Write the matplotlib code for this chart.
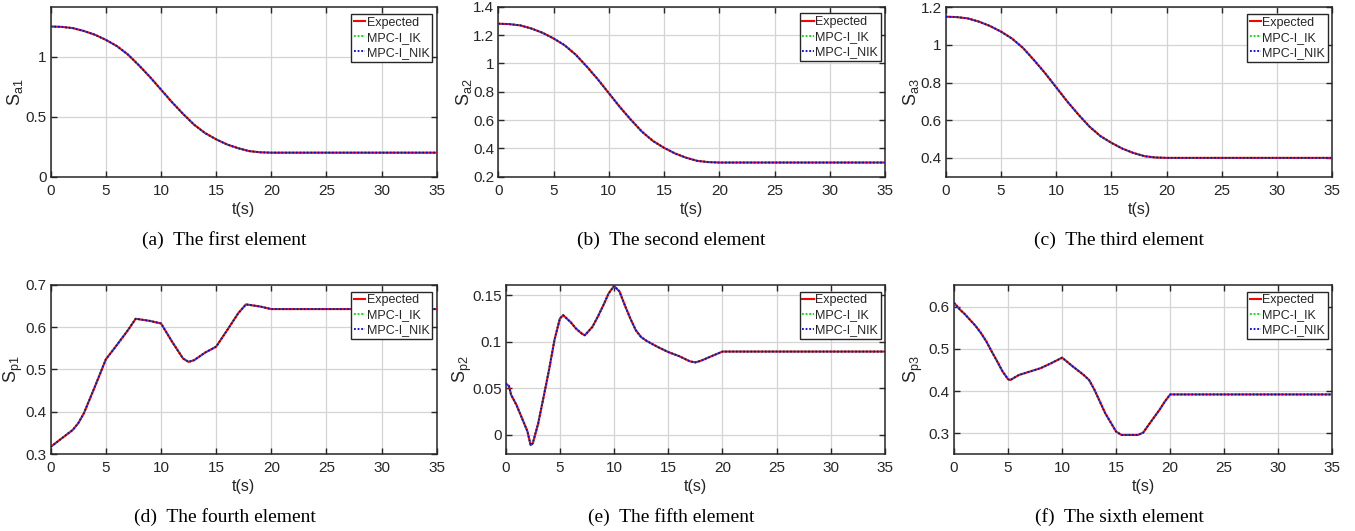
import matplotlib
matplotlib.use("Agg")
import matplotlib.pyplot as plt
from matplotlib.ticker import FormatStrFormatter, MultipleLocator

# ---------------- data ----------------
t_a = [0, 1, 2, 3, 4, 5, 6, 7, 8, 9, 10, 11, 12, 13, 14, 15, 16, 17, 18, 19, 20, 35]
s_a1 = [1.25, 1.247, 1.237, 1.213, 1.182, 1.139, 1.087, 1.017, 0.927, 0.83, 0.725,
        0.62, 0.523, 0.433, 0.363, 0.311, 0.268, 0.237, 0.213, 0.203, 0.2, 0.2]
s_a2 = [1.28, 1.277, 1.268, 1.246, 1.216, 1.176, 1.128, 1.062, 0.978, 0.888, 0.79,
        0.692, 0.602, 0.518, 0.452, 0.404, 0.364, 0.334, 0.312, 0.303, 0.3, 0.3]
s_a3 = [1.15, 1.148, 1.141, 1.124, 1.101, 1.071, 1.034, 0.984, 0.919, 0.85, 0.775,
        0.70, 0.631, 0.567, 0.516, 0.480, 0.449, 0.426, 0.409, 0.402, 0.4, 0.4]

t_p1 = [0, 1, 2, 2.5, 3, 4, 5, 6, 7, 7.7, 8, 9, 10, 11, 12, 12.5, 13, 14, 15, 16, 17,
        17.7, 18, 19, 20, 35]
s_p1 = [0.317, 0.337, 0.357, 0.373, 0.396, 0.459, 0.524, 0.558, 0.593, 0.620, 0.619,
        0.615, 0.609, 0.566, 0.526, 0.518, 0.522, 0.540, 0.554, 0.593, 0.633,
        0.654, 0.653, 0.649, 0.643, 0.643]

t_p2 = [0, 0.3, 0.5, 1, 1.5, 2, 2.3, 2.5, 3, 3.5, 4, 4.5, 5, 5.3, 6, 6.5, 7, 7.3, 8,
        8.5, 9, 9.5, 10, 10.5, 11, 11.5, 12, 12.5, 13, 14, 15, 16, 17, 17.5, 18, 19,
        20, 35]
s_p2 = [0.055, 0.0525, 0.043, 0.032, 0.018, 0.004, -0.011, -0.009, 0.0125, 0.041,
        0.070, 0.102, 0.125, 0.1286, 0.121, 0.114, 0.109, 0.107, 0.116, 0.127, 0.139,
        0.152, 0.160, 0.154, 0.139, 0.125, 0.1125, 0.105, 0.101, 0.0946, 0.089,
        0.0846, 0.079, 0.0779, 0.0796, 0.0846, 0.0895, 0.0895]

t_p3 = [0, 0.5, 1, 1.5, 2, 2.5, 3, 3.5, 4, 4.5, 5, 5.2, 6, 7, 8, 9, 10, 11, 12, 12.5,
        13, 14, 15, 15.5, 16, 17, 17.5, 18, 19, 19.5, 20, 35]
s_p3 = [0.609, 0.594, 0.582, 0.568, 0.554, 0.537, 0.517, 0.493, 0.470, 0.446, 0.428,
        0.426, 0.438, 0.446, 0.454, 0.466, 0.479, 0.458, 0.438, 0.426, 0.4026, 0.347,
        0.304, 0.296, 0.296, 0.296, 0.3016, 0.3197, 0.355, 0.375, 0.392, 0.392]

series_names = ["Expected", "MPC-I_IK", "MPC-I_NIK"]
ylabels = ["a1", "a2", "a3", "p1", "p2", "p3"]
captions = ["(a)  The first element", "(b)  The second element", "(c)  The third element",
            "(d)  The fourth element", "(e)  The fifth element", "(f)  The sixth element"]

panels = [(t_a, s_a1), (t_a, s_a2), (t_a, s_a3), (t_p1, s_p1), (t_p2, s_p2), (t_p3, s_p3)]
ylims = [(0, 1.41), (0.2, 1.4), (0.3, 1.2), (0.3, 0.7), (-0.0205, 0.161), (0.251, 0.651)]
ysteps = [0.5, 0.2, 0.2, 0.1, 0.05, 0.1]

# axes boxes in pixels: left, right, top, bottom
W, H = 1355, 531
boxes = [(50.7, 436.7, 7.3, 176.7), (498.3, 885, 6.7, 176.7), (945.7, 1332.3, 7.3, 176.7),
         (50.7, 436.7, 285, 454), (505.7, 885, 285, 454), (954, 1332.3, 285, 454)]
ylab_x = [-0.066, -0.064, -0.063, -0.066, -0.083, -0.077]
cap_pos = [(224.5, 240), (671.5, 240), (1119, 240), (224.5, 517), (671.5, 517), (1119, 517)]

plt.rcParams['font.family'] = ['Liberation Sans', 'DejaVu Sans']
plt.rcParams['mathtext.fontset'] = 'custom'
plt.rcParams['mathtext.rm'] = 'Liberation Sans'
plt.rcParams['mathtext.it'] = 'Liberation Sans'

fig = plt.figure(figsize=(W / 100, H / 100), dpi=100)

for i, ((tt, ss), (l, r, top, b)) in enumerate(zip(panels, boxes)):
    ax = fig.add_axes([l / W, 1 - b / H, (r - l) / W, (b - top) / H])
    ax.plot(tt, ss, color='red', lw=1.5, ls='-', label=series_names[0], zorder=3)
    ax.plot(tt, ss, color='#00dd00', lw=1.3, ls=(0, (1, 1)), label=series_names[1], zorder=4)
    ax.plot(tt, ss, color='blue', lw=1.3, ls=(0, (1, 1)), label=series_names[2], zorder=5)
    ax.set_xlim(0, 35)
    ax.set_ylim(*ylims[i])
    ax.xaxis.set_major_locator(MultipleLocator(5))
    ax.yaxis.set_major_locator(MultipleLocator(ysteps[i]))
    ax.xaxis.set_major_formatter(FormatStrFormatter('%g'))
    ax.yaxis.set_major_formatter(FormatStrFormatter('%g'))
    ax.grid(True, color='#d4d4d4', lw=0.9)
    ax.set_axisbelow(True)
    ax.tick_params(direction='in', top=True, right=True, length=4, width=1.0,
                   labelsize=11, colors='#262626')
    ax.tick_params(axis='x', pad=5)
    ax.tick_params(axis='y', pad=3)
    for sp in ax.spines.values():
        sp.set_color('#262626')
        sp.set_linewidth(1.1)
    ax.set_xlabel('t(s)', fontsize=11.5, color='#262626', labelpad=3)
    ax.set_ylabel(r'S$_{\mathregular{%s}}$' % ylabels[i], fontsize=13, color='#262626')
    ax.yaxis.set_label_coords(ylab_x[i], 0.5)
    lw_ax = (r - l)
    hw_ax = (b - top)
    leg = ax.legend(loc='upper right', bbox_to_anchor=(1 - 4.4 / lw_ax, 1 - 6.5 / hw_ax),
                    borderaxespad=0, fontsize=9, handlelength=0.9, handletextpad=0.12,
                    labelspacing=0.25, borderpad=0.22, fancybox=False, framealpha=1,
                    edgecolor='#262626')
    leg.get_frame().set_linewidth(1.0)
    for txt in leg.get_texts():
        txt.set_color('#262626')
    cx, cy = cap_pos[i]
    fig.text(cx / W, 1 - cy / H, captions[i], ha='center', va='center', fontsize=14,
             family=['Liberation Serif', 'DejaVu Serif'])

fig.savefig('out.png', dpi=100)
